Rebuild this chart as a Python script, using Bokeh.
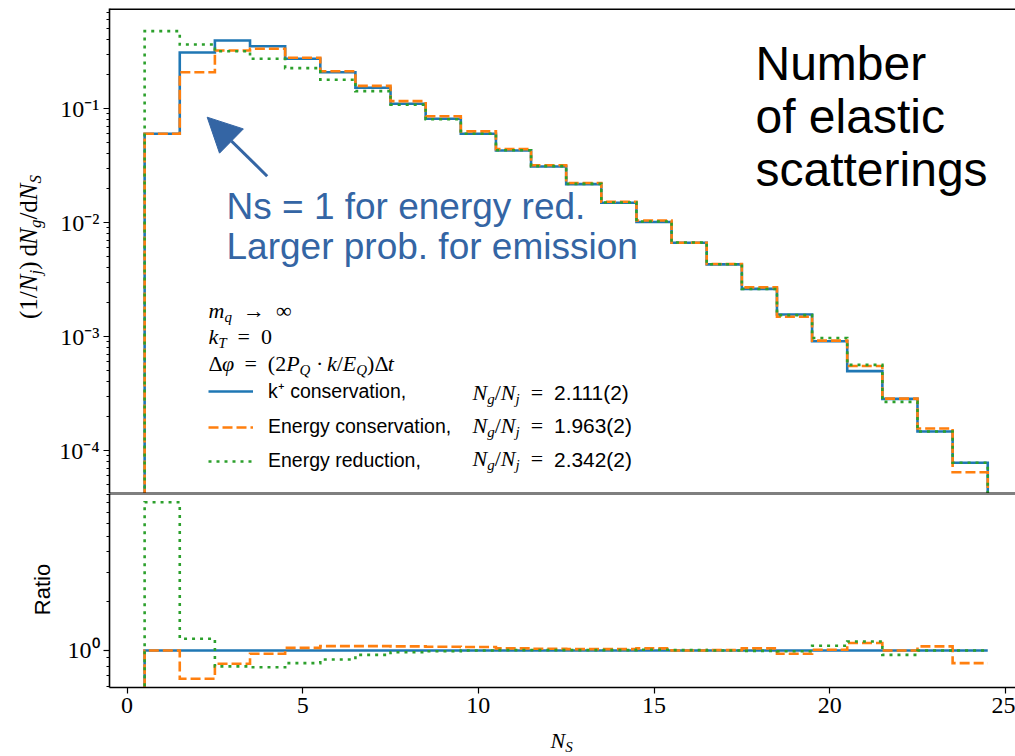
import math
from bokeh.plotting import figure
from bokeh.layouts import column, row
from bokeh.models import (Range1d, FixedTicker, CustomJSTickFormatter, Label, Span,
                          Legend, LegendItem, Arrow, NormalHead)
from bokeh.embed import file_html
from bokeh.resources import INLINE

# ---------------- data ----------------
ns_bins = [1, 2, 3, 4, 5, 6, 7, 8, 9, 10, 11, 12, 13, 14, 15, 16, 17, 18, 19, 20, 21, 22, 23, 24]
kplus_cons = [0.060, 0.310, 0.395, 0.352, 0.273, 0.208, 0.152, 0.110, 0.0812, 0.0600, 0.0428, 0.0310,
              0.0217, 0.0149, 0.0101, 0.00664, 0.00429, 0.00262, 0.00156, 0.00091, 0.000497, 0.000284,
              0.000147, 0.0000780]
energy_cons = [0.060, 0.208, 0.323, 0.334, 0.279, 0.212, 0.158, 0.116, 0.0855, 0.0630, 0.0440, 0.0318,
               0.0222, 0.0152, 0.0104, 0.00664, 0.00432, 0.00270, 0.00149, 0.00092, 0.000552, 0.000285,
               0.000156, 0.0000645]
energy_red = [0.477, 0.364, 0.318, 0.273, 0.226, 0.179, 0.142, 0.108, 0.0805, 0.0600, 0.0430, 0.0312,
              0.0218, 0.0150, 0.0102, 0.00668, 0.00430, 0.00261, 0.00154, 0.00097, 0.000564, 0.000267,
              0.000147, 0.0000780]
ratio_kplus = [1.0, 1.0, 1.0, 1.0, 1.0, 1.0, 1.0, 1.0, 1.0, 1.0, 1.0, 1.0,
               1.0, 1.0, 1.0, 1.0, 1.0, 1.0, 1.0, 1.0, 1.0, 1.0, 1.0, 1.0]
ratio_energy_cons = [1.0, 0.672, 0.83, 0.955, 1.038, 1.063, 1.063, 1.06, 1.055, 1.05, 1.03, 1.025,
                     1.02, 1.02, 1.03, 1.0, 1.005, 1.03, 0.955, 1.01, 1.11, 1.0, 1.06, 0.837]
ratio_energy_red = [8.04, 1.18, 0.80, 0.79, 0.837, 0.881, 0.94, 0.976, 0.99, 1.0, 1.005, 1.005,
                    1.005, 1.005, 1.01, 1.005, 1.0, 0.995, 0.99, 1.07, 1.135, 0.94, 1.0, 1.0]
series_labels = ["k\u207a conservation,", "Energy conservation,", "Energy reduction,"]
ratio_values_text = ["2.111(2)", "1.963(2)", "2.342(2)"]
x_ticks = [0, 5, 10, 15, 20, 25]
top_major_ticks = [1e-4, 1e-3, 1e-2, 1e-1]
ratio_major_ticks = [1.0]
ratio_minor_ticks = [0.6, 0.7, 0.8, 0.9, 2, 3, 4, 5, 6, 7, 8, 9]

# ---------------- style ----------------
C_BLUE, C_ORANGE, C_GREEN = "#1f77b4", "#ff7f0e", "#2ca02c"
NOTE_BLUE = "#3465a4"
SERIF, SANS = "Liberation Serif", "Liberation Sans"
LW = 2.6
DASH_ORANGE = "10 4"
DASH_GREEN = "3 5"
NB = "\u00a0"
BASE_K = 0.37   # anchor-to-baseline offset (fraction of font size) of Label text
STRIP_W = 56
BORDER_L = 109 - STRIP_W

SERIF_W = {NB: 0.25, '(': 0.333, ')': 0.333, '/': 0.278, '=': 0.564, '\u00b7': 0.25, '\u2192': 1.0,
           '\u221e': 0.713, '\u0394': 0.612, '.': 0.25, 'd': 0.5, '+': 0.564, '\u2009': 0.17}
ITAL_W = {'m': 0.722, 'q': 0.5, 'k': 0.444, 'T': 0.556, '\u03c6': 0.52, 'P': 0.611, 'Q': 0.722,
          'E': 0.611, 't': 0.278, 'N': 0.667, 'g': 0.5, 'j': 0.278, 'S': 0.5}
SANS_W = {'.': 0.278, '(': 0.333, ')': 0.333, ',': 0.278, NB: 0.278}
FONT_OF = {"mr": (SERIF, "normal"), "mi": (SERIF, "italic"), "sf": (SANS, "normal")}


def seg_width(text, kind, size):
    table = {"mr": SERIF_W, "mi": ITAL_W, "sf": SANS_W}[kind]
    default = 0.556 if kind == "sf" else 0.5
    return sum(table.get(c, default) for c in text) * size


def seg_size(seg, size, sub_size):
    if len(seg) > 2 and seg[2]:
        return sub_size
    return size * 0.95 if seg[1] == "sf" else size


def math_width(segs, size, sub_size):
    return sum(seg_width(s[0].replace(" ", NB), s[1], seg_size(s, size, sub_size)) for s in segs)


def add_math(p, x, y, segs, size=22, sub_size=15, shift=4, rotated=False, color="black"):
    """x, y: start of the text baseline in frame screen units."""
    pos = 0.0
    for seg in segs:
        text, kind = seg[0].replace(" ", NB), seg[1]
        sub = len(seg) > 2 and seg[2]
        fs = seg_size(seg, size, sub_size)
        font, style = FONT_OF[kind]
        d = shift if sub else 0
        if rotated:
            lx, ly, ang = x + d - BASE_K * fs, y + pos, math.pi / 2
        else:
            lx, ly, ang = x + pos, y - d + BASE_K * fs, 0.0
        p.add_layout(Label(x=lx, y=ly, x_units="screen", y_units="screen", text=text,
                           text_font=font, text_font_style=style, text_font_size=f"{fs:.1f}px",
                           text_align="left", text_baseline="alphabetic", angle=ang,
                           text_color=color))
        pos += seg_width(text, kind, fs)


def add_text(p, x, y, text, size, color="black", font=SANS):
    p.add_layout(Label(x=x, y=y + BASE_K * size, x_units="screen", y_units="screen", text=text,
                       text_font=font, text_font_size=f"{size}px", text_color=color,
                       text_baseline="alphabetic"))


def step_path(centers, vals, floor, drop_right):
    xs, ys = [centers[0] - 0.5], [floor]
    for c, v in zip(centers, vals):
        xs += [c - 0.5, c + 0.5]
        ys += [v, v]
    if drop_right:
        xs.append(centers[-1] + 0.5)
        ys.append(floor)
    return xs, ys


SUP_JS = r"""
const s = {"-":"\u207b","0":"\u2070","1":"\u00b9","2":"\u00b2","3":"\u00b3","4":"\u2074",
           "5":"\u2075","6":"\u2076","7":"\u2077","8":"\u2078","9":"\u2079"};
const e = Math.round(Math.log10(tick));
let out = "10";
for (const c of String(e)) { out += s[c]; }
return out;
"""


def style_axis(ax):
    ax.axis_line_color = "black"
    ax.axis_line_width = 1.6
    ax.major_tick_out = 6
    ax.major_tick_in = 0
    ax.minor_tick_out = 3
    ax.minor_tick_in = 0
    ax.major_tick_line_width = 1.2
    ax.minor_tick_line_width = 1.0
    ax.major_label_text_font = SERIF
    ax.major_label_text_font_size = "24px"
    ax.major_label_text_color = "black"
    ax.major_label_standoff = 4


def blank_fig(w, h):
    f = figure(width=w, height=h, x_range=Range1d(0, 1), y_range=Range1d(0, 1),
               x_axis_location=None, y_axis_location=None, toolbar_location=None,
               output_backend="svg", min_border_left=0, min_border_right=0,
               min_border_top=0, min_border_bottom=0)
    f.outline_line_color = None
    f.xgrid.visible = False
    f.ygrid.visible = False
    return f


x_range = Range1d(-0.5, 25.29)

# ---------------- top panel ----------------
top_lo, top_hi = 10 ** -4.377, 10 ** -0.1228
top = figure(frame_width=906, frame_height=485, x_range=x_range, y_range=Range1d(top_lo, top_hi),
             y_axis_type="log", x_axis_location=None, toolbar_location=None, output_backend="svg",
             min_border_left=BORDER_L, min_border_right=0, min_border_top=8, min_border_bottom=0)
top.outline_line_color = None
top.xgrid.visible = False
top.ygrid.visible = False
style_axis(top.yaxis[0])
top.yaxis[0].ticker = FixedTicker(ticks=top_major_ticks,
                                  minor_ticks=[m * 10.0 ** d for d in range(-5, 1) for m in range(2, 10)])
top.yaxis[0].formatter = CustomJSTickFormatter(code=SUP_JS)

renderers = []
for vals, col, dash in [(kplus_cons, C_BLUE, "solid"), (energy_cons, C_ORANGE, DASH_ORANGE),
                        (energy_red, C_GREEN, DASH_GREEN)]:
    xs, ys = step_path(ns_bins, vals, 1e-7, True)
    renderers.append(top.line(xs, ys, line_color=col, line_width=LW, line_dash=dash, line_join="miter"))

top.add_layout(Span(location=top_hi, dimension="width", line_color="black", line_width=3))
top.add_layout(Span(location=top_lo, dimension="width", line_color="black", line_width=2))

legend = Legend(items=[LegendItem(label=lab, renderers=[r]) for lab, r in zip(series_labels, renderers)],
                location=(99, 21), glyph_width=45, glyph_height=20, label_height=20, label_standoff=15,
                spacing=11, padding=0, margin=0, border_line_color=None, background_fill_alpha=0,
                label_text_font=SANS, label_text_font_size="19.5px", label_text_color="black")
top.add_layout(legend)

# static legend lines (baselines in frame units)
add_math(top, 99, 175, [("m", "mi"), ("q", "mi", True), ("  \u2192  \u221e", "mr")])
add_math(top, 99, 149, [("k", "mi"), ("T", "mi", True), ("  =  0", "mr")])
add_math(top, 99, 122, [("\u0394", "mr"), ("\u03c6", "mi"), ("  =  (2", "mr"), ("P", "mi"), ("Q", "mi", True),
                        (" \u00b7 ", "mr"), ("k", "mi"), ("/", "mr"), ("E", "mi"), ("Q", "mi", True),
                        (")\u0394", "mr"), ("t", "mi")])
for yb, txt in zip([93, 60, 26.5], ratio_values_text):
    add_math(top, 363, yb, [("N", "mi"), ("g", "mi", True), ("/", "mr"), ("N", "mi"), ("j", "mi", True),
                            ("  =  ", "mr"), (txt, "sf")])

# annotations
for yb, txt in zip([412, 359, 306], ["Number", "of elastic", "scatterings"]):
    add_text(top, 646, yb, txt, 48)
for yb, txt in zip([273, 233], ["Ns = 1 for energy red.", "Larger prob. for emission"]):
    add_text(top, 117, yb, txt, 37, color=NOTE_BLUE)
top.add_layout(Arrow(end=NormalHead(size=34, fill_color=NOTE_BLUE, line_color=NOTE_BLUE, line_width=1),
                     x_start=157.7, y_start=317.3, x_end=97.7, y_end=376.3,
                     start_units="screen", end_units="screen", line_color=NOTE_BLUE, line_width=3))

# ---------------- ratio panel ----------------
r_lo, r_hi = 10 ** -0.2259, 10 ** 0.9585
bot = figure(frame_width=906, frame_height=194, x_range=x_range, y_range=Range1d(r_lo, r_hi),
             y_axis_type="log", toolbar_location=None, output_backend="svg",
             min_border_left=BORDER_L, min_border_right=0, min_border_top=0, min_border_bottom=36)
bot.outline_line_color = None
bot.xgrid.visible = False
bot.ygrid.visible = False
style_axis(bot.yaxis[0])
bot.yaxis[0].ticker = FixedTicker(ticks=ratio_major_ticks, minor_ticks=ratio_minor_ticks)
bot.yaxis[0].formatter = CustomJSTickFormatter(code=SUP_JS)
style_axis(bot.xaxis[0])
bot.xaxis[0].ticker = FixedTicker(ticks=x_ticks)
bot.xaxis[0].minor_tick_line_color = None

for vals, col, dash in [(ratio_kplus, C_BLUE, "solid"), (ratio_energy_cons, C_ORANGE, DASH_ORANGE),
                        (ratio_energy_red, C_GREEN, DASH_GREEN)]:
    xs, ys = step_path(ns_bins, vals, 0.1, False)
    bot.line(xs, ys, line_color=col, line_width=LW, line_dash=dash, line_join="miter")

bot.add_layout(Span(location=r_hi, dimension="width", line_color="black", line_width=2))

# ---------------- axis-title strips ----------------
left_strip = blank_fig(STRIP_W, 723)
ylab = [("(1/", "mr"), ("N", "mi"), ("j", "mi", True), (")\u2009d", "mr"), ("N", "mi"), ("g", "mi", True),
        ("/d", "mr"), ("N", "mi"), ("S", "mi", True)]
wl = math_width(ylab, 25, 17)
add_math(left_strip, 37, 476.5 - wl / 2, ylab, size=25, sub_size=17, shift=4, rotated=True)
left_strip.add_layout(Label(x=50.5 - BASE_K * 22, y=134, x_units="screen", y_units="screen", text="Ratio",
                            text_font=SANS, text_font_size="22px", text_align="center",
                            text_baseline="alphabetic", angle=math.pi / 2, text_color="black"))

x_strip = blank_fig(1015, 33)
add_math(x_strip, 550, 8, [("N", "mi"), ("S", "mi", True)], size=22, sub_size=15, shift=4)

layout = column(row(left_strip, column(top, bot, spacing=0), spacing=0), x_strip, spacing=0)
open("out.html", "w").write(file_html(layout, INLINE))
